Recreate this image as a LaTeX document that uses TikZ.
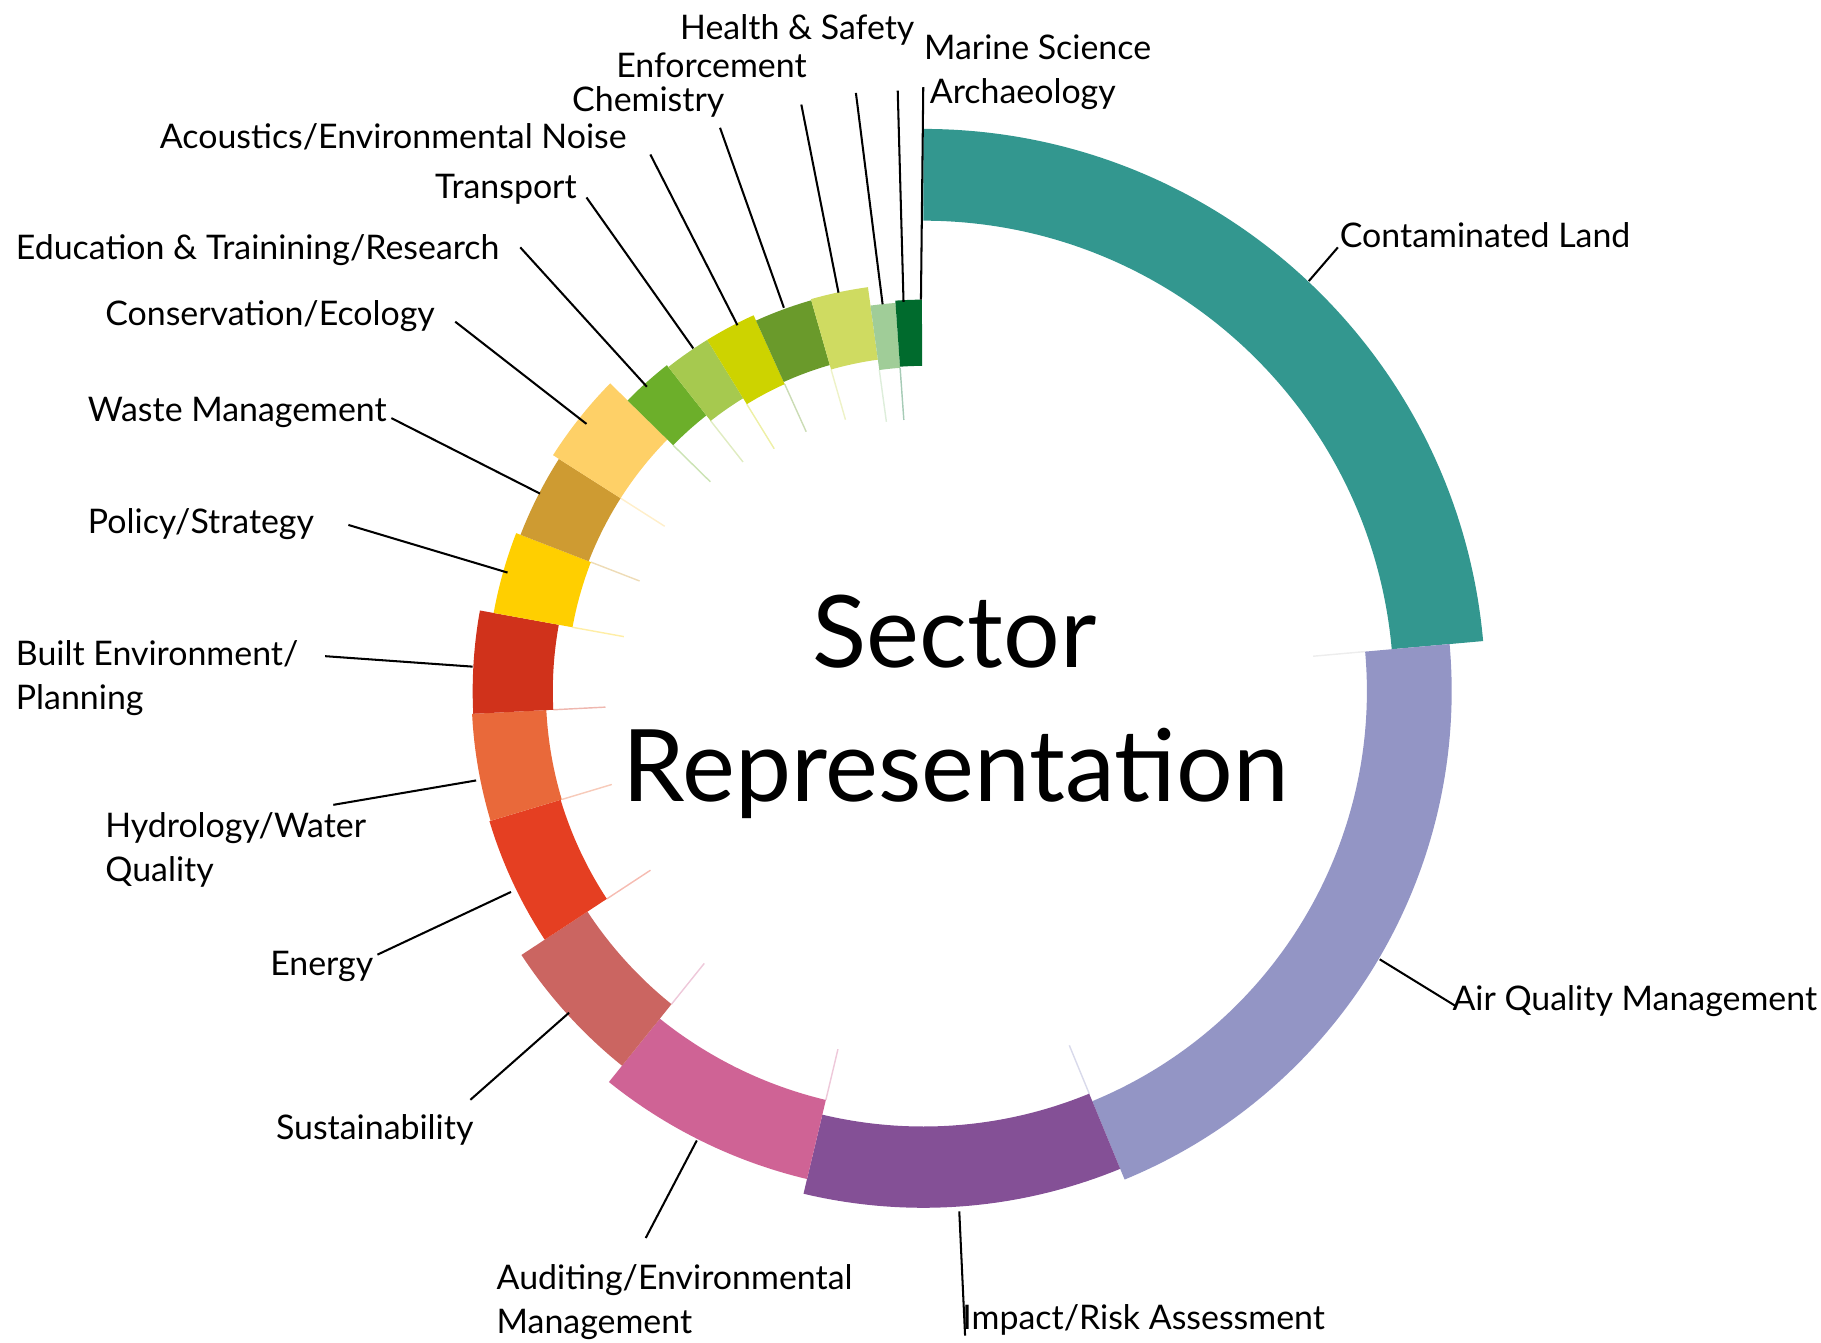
\documentclass[tikz,border=0pt]{standalone}
\usepackage{fontspec}
\setmainfont{Lato}
\definecolor{cCL}{RGB}{51,151,143}
\definecolor{cAQ}{RGB}{147,149,197}
\definecolor{cIR}{RGB}{132,80,150}
\definecolor{cAU}{RGB}{207,99,149}
\definecolor{cSU}{RGB}{203,101,97}
\definecolor{cEN}{RGB}{229,63,34}
\definecolor{cHY}{RGB}{233,105,58}
\definecolor{cBE}{RGB}{208,50,27}
\definecolor{cPS}{RGB}{255,207,0}
\definecolor{cWM}{RGB}{206,155,50}
\definecolor{cCE}{RGB}{254,208,103}
\definecolor{cED}{RGB}{108,175,42}
\definecolor{cTR}{RGB}{166,201,79}
\definecolor{cAC}{RGB}{205,211,0}
\definecolor{cCH}{RGB}{106,154,43}
\definecolor{cEF}{RGB}{207,219,97}
\definecolor{cHS}{RGB}{160,205,152}
\definecolor{cMS}{RGB}{0,107,45}
\newcommand\ringseg[5]{\fill[#1] (#2:#5) arc[start angle=#2,end angle=#3,radius=#5] -- (#3:#4) arc[start angle=#3,end angle=#2,radius=#4] -- cycle;}
\newcommand\streak[3]{\draw[#1,line width=0.35pt,opacity=0.35] (#2:#3) -- (#2:{#3-45});}
\begin{document}
\begin{tikzpicture}[x=0.01cm,y=-0.01cm,
  lab/.style={inner sep=0pt,font=\fontsize{8.3}{10.8}\selectfont,anchor=base west},
  lab2/.style={inner sep=0pt,font=\fontsize{8.3}{10.8}\selectfont,anchor=west,align=left},
  leader/.style={draw=black,line width=0.5pt},
  big/.style={inner sep=0pt,font=\fontsize{24.5}{32}\selectfont,anchor=base}]
\useasboundingbox (0,0) rectangle (1568,1156);
\begin{scope}[shift={(795,595)},yscale=-1]
\ringseg{cCL}{90}{5.1}{405}{484}
\ringseg{cAQ}{5.1}{-67.6}{382}{455}
\ringseg{cIR}{-67.6}{-103.4}{375}{445}
\ringseg{cAU}{-103.4}{-128.8}{362}{432}
\ringseg{cSU}{-128.8}{-146.7}{346}{414}
\ringseg{cEN}{-146.7}{-163.3}{326}{390}
\ringseg{cHY}{-163.3}{-177.1}{325}{389}
\ringseg{cBE}{-177.1}{-190.3}{319}{388}
\ringseg{cPS}{-190.3}{-201.2}{307}{376}
\ringseg{cWM}{-201.2}{-212.5}{309}{372}
\ringseg{cCE}{-212.5}{-224.5}{309}{378}
\ringseg{cED}{-224.5}{-231.8}{302}{357}
\ringseg{cTR}{-231.8}{-238.4}{296}{355}
\ringseg{cAC}{-238.4}{-245.7}{290}{355}
\ringseg{cCH}{-245.7}{-254}{292}{350}
\ringseg{cEF}{-254}{-262.2}{288}{351}
\ringseg{cHS}{-262.2}{-265.9}{279}{335}
\ringseg{cMS}{-265.9}{-269.8}{280}{337}
% faint streaks at the inner ends of the boundaries
\streak{gray!40}{5.1}{382}
\streak{cAQ}{-67.6}{375}
\streak{cAU}{-103.4}{362}
\streak{cAU}{-128.8}{346}
\streak{cEN}{-146.7}{326}
\streak{cHY}{-163.3}{325}
\streak{cBE}{-177.1}{319}
\streak{cPS}{-190.3}{307}
\streak{cWM}{-201.2}{307}
\streak{cCE}{-212.5}{309}
\streak{cED}{-224.5}{302}
\streak{cTR}{-231.8}{296}
\streak{cAC}{-238.4}{290}
\streak{cCH}{-245.7}{290}
\streak{cEF}{-254}{288}
\streak{cHS}{-262.2}{279}
\streak{cMS}{-265.9}{279}
\end{scope}
% titles
\node[big] (sector) at (822,575) {Sector};
\node[big] (repr) at (823,690) {Representation};
% labels
\node[lab] (lHS) at (585,34) {Health \& Safety};
\node[lab] (lMS) at (795,51) {Marine Science};
\node[lab] (lEF) at (530,67) {Enforcement};
\node[lab] (lAR) at (800,89) {Archaeology};
\node[lab] (lCH) at (492,96) {Chemistry};
\node[lab] (lAC) at (137,128) {Acoustics/Environmental Noise};
\node[lab] (lTR) at (374,171) {Transport};
\node[lab] (lCL) at (1153,213) {Contaminated Land};
\node[lab] (lED) at (13,223) {Education \& Trainining/Research};
\node[lab] (lCE) at (90,280) {Conservation/Ecology};
\node[lab] (lWM) at (75,363) {Waste Management};
\node[lab] (lPS) at (75,459) {Policy/Strategy};
\node[lab2] (lBE) at (13,584) {Built Environment/\\Planning};
\node[lab2] (lHY) at (90,732) {Hydrology/Water\\Quality};
\node[lab] (lEN) at (232,840) {Energy};
\node[lab] (lAQ) at (1250,870) {Air Quality Management};
\node[lab] (lSU) at (237,981) {Sustainability};
\node[lab2] (lAU) at (427,1121) {Auditing/Environmental\\Management};
\node[lab] (lIR) at (828,1145) {Impact/Risk Assessment};
% leader end points
\coordinate (rCL) at (1127,242); \coordinate (tCL) at (1152,213);
\coordinate (rAQ) at (1188,826); \coordinate (tAQ) at (1253,866);
\coordinate (rIR) at (826,1043); \coordinate (tIR) at (831,1150);
\coordinate (rAU) at (600,982);  \coordinate (tAU) at (556,1066);
\coordinate (rSU) at (490,872);  \coordinate (tSU) at (405,947);
\coordinate (rEN) at (440,768);  \coordinate (tEN) at (325,822);
\coordinate (rHY) at (410,672);  \coordinate (tHY) at (287,693);
\coordinate (rBE) at (407,574);  \coordinate (tBE) at (280,565);
\coordinate (rPS) at (437,493);  \coordinate (tPS) at (300,452);
\coordinate (rWM) at (465,425);  \coordinate (tWM) at (337,360);
\coordinate (rCE) at (505,365);  \coordinate (tCE) at (392,277);
\coordinate (rED) at (557,333);  \coordinate (tED) at (448,213);
\coordinate (rTR) at (597,300);  \coordinate (tTR) at (505,170);
\coordinate (rAC) at (635,280);  \coordinate (tAC) at (560,133);
\coordinate (rCH) at (675,265);  \coordinate (tCH) at (620,110);
\coordinate (rEF) at (722,252);  \coordinate (tEF) at (690,90);
\coordinate (rHS) at (760,262);  \coordinate (tHS) at (737,80);
\coordinate (rMS) at (778,260);  \coordinate (tMS) at (773,78);
\coordinate (rAR) at (793,258);  \coordinate (tAR) at (795,75);
\foreach \k in {CL,AQ,IR,AU,SU,EN,HY,BE,PS,WM,CE,ED,TR,AC,CH,EF,HS,MS,AR}
  \draw[leader] (t\k) -- (r\k);
\end{tikzpicture}
\end{document}
